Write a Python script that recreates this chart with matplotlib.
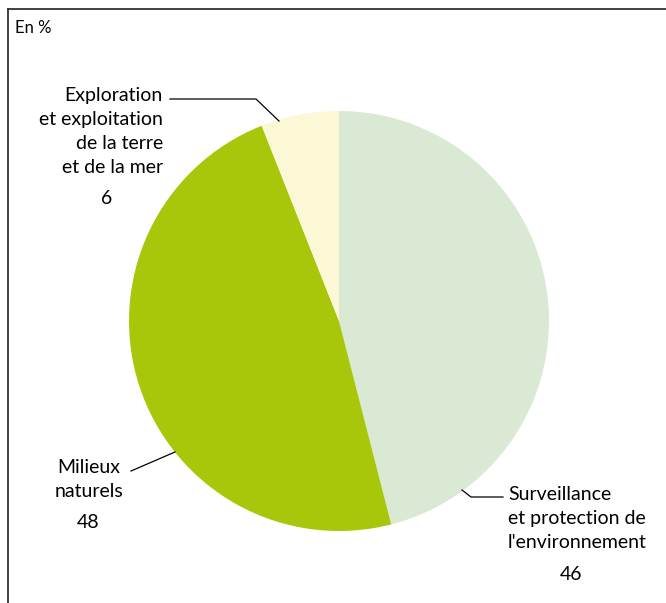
import matplotlib
matplotlib.use('Agg')
from matplotlib import pyplot as plt
from matplotlib.lines import Line2D

labels = ["Surveillance\net protection de\nl'environnement", "Milieux\nnaturels", "Exploration\net exploitation\nde la terre\net de la mer"]
values = [46, 48, 6]
colors = ["#d9e9d3", "#a8c70b", "#fcf8d6"]

plt.rcParams['font.family'] = ['Lato', 'DejaVu Sans']

W, H = 666, 603
fig = plt.figure(figsize=(W / 100, H / 100), dpi=100)

# pie centred at (339, 321) px, radius 210 px
cx, cy, r = 339, 321, 210
ax = fig.add_axes([(cx - r) / W, (H - cy - r) / H, 2 * r / W, 2 * r / H])
ax.pie(values, colors=colors, startangle=90, counterclock=False,
       wedgeprops=dict(linewidth=0))
ax.set_xlim(-1, 1)
ax.set_ylim(-1, 1)
ax.set_aspect('equal')
ax.axis('off')

def px(x, y):
    return x / W, 1 - y / H

# frame (top and left)
fig.add_artist(Line2D([px(8, 9)[0], 1], [px(8, 9)[1]] * 2, color='#333333', lw=1.3))
fig.add_artist(Line2D([px(8, 9)[0]] * 2, [px(8, 9)[1], 0], color='#333333', lw=1.3))

fig.text(*px(15, 28), "En %", fontsize=12, va='center', ha='left')

fs = 14
ls = 1.5
# Surveillance
fig.text(*px(508, 486), labels[0], fontsize=fs, ha='left', va='top', linespacing=ls)
fig.text(*px(571, 574), str(values[0]), fontsize=fs, ha='center', va='center')
fig.add_artist(Line2D([px(462, 0)[0], px(471, 0)[0], px(503, 0)[0]],
                      [px(0, 490)[1], px(0, 497)[1], px(0, 497)[1]], color='black', lw=0.9))

# Milieux naturels
fig.text(*px(89, 459), labels[1], fontsize=fs, ha='center', va='top', linespacing=ls, multialignment='center')
fig.text(*px(88, 523), str(values[1]), fontsize=fs, ha='center', va='center')
fig.add_artist(Line2D([px(131, 0)[0], px(175, 0)[0]],
                      [px(0, 471)[1], px(0, 452)[1]], color='black', lw=0.9))

# Exploration
fig.text(*px(163, 87), labels[2], fontsize=fs, ha='right', va='top', linespacing=ls, multialignment='right')
fig.text(*px(107, 198), str(values[2]), fontsize=fs, ha='center', va='center')
fig.add_artist(Line2D([px(170, 0)[0], px(256, 0)[0], px(279, 0)[0]],
                      [px(0, 99)[1], px(0, 99)[1], px(0, 121)[1]], color='black', lw=0.9))

fig.savefig("out.png", dpi=100)
